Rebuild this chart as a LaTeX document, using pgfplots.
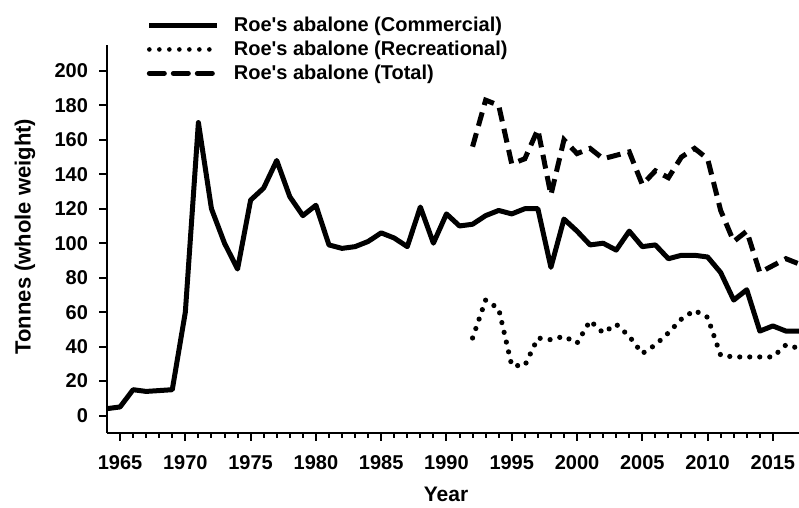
\documentclass[border=0pt]{standalone}
\usepackage{fontspec}
\setmainfont{Liberation Sans}
\usepackage{pgfplots}
\pgfplotsset{compat=1.18}

% commercial catch, tonnes
\pgfplotstableread{
yr t
1964 4
1965 5
1966 15
1967 14
1968 14.5
1969 15
1970 60
1971 170
1972 120
1973 100
1974 85
1975 125
1976 132
1977 148
1978 127
1979 116
1980 122
1981 99
1982 97
1983 98
1984 101
1985 106
1986 103
1987 98
1988 121
1989 100
1990 117
1991 110
1992 111
1993 116
1994 119
1995 117
1996 120
1997 120
1998 86
1999 114
2000 107
2001 99
2002 100
2003 96
2004 107
2005 98
2006 99
2007 91
2008 93
2009 93
2010 92
2011 83
2012 67
2013 73
2014 49
2015 52
2016 49
2017 49
}\commercial

\pgfplotstableread{
yr t
1992 45
1993 67
1994 62
1995 29
1996 29
1997 45
1998 44
1999 46
2000 42
2001 55
2002 48
2003 53
2004 46
2005 36
2006 41
2007 48
2008 56
2009 61
2010 57
2011 35
2012 34
2013 34
2014 34
2015 34
2016 41
2017 39
}\recreational

\pgfplotstableread{
yr t
1992 156
1993 183
1994 180
1995 146
1996 149
1997 166
1998 128
1999 160
2000 152
2001 155
2002 149
2003 151
2004 153
2005 134
2006 142
2007 138
2008 150
2009 155
2010 149
2011 119
2012 101
2013 107
2014 83
2015 87
2016 91
2017 88
}\total

\begin{document}
\begin{tikzpicture}
\begin{axis}[
  scale only axis,
  width=346pt, height=193.9pt,
  xmin=1964, xmax=2017,
  ymin=-10, ymax=215,
  axis lines=left,
  axis line style={-, line width=1pt},
  xtick={1965,1970,...,2015},
  minor x tick num=4,
  ytick={0,20,...,200},
  tick align=outside,
  major tick length=4pt,
  minor tick length=2.5pt,
  every tick/.style={black, line width=1pt},
  /pgf/number format/1000 sep={},
  /pgf/number format/assume math mode=true,
  ticklabel style={font=\bfseries\fontsize{10}{12}\selectfont},
  xticklabel style={yshift=-4pt},
  yticklabel style={xshift=-2pt},
  xlabel={Year},
  ylabel={Tonnes (whole weight)},
  xlabel style={font=\bfseries\fontsize{10.5}{12}\selectfont, at={(axis description cs:0.49,-0.16)}, anchor=center},
  ylabel style={font=\bfseries\fontsize{11}{13}\selectfont, at={(axis description cs:-0.1185,0.506)}, anchor=center},
  legend style={at={(axis description cs:0.057,1.084)}, anchor=north west,
    draw=none, fill=none, font=\bfseries\fontsize{10}{11}\selectfont, row sep=-0.8pt,
    inner sep=0pt},
  legend cell align=left,
  legend image code/.code={\draw[#1] (0pt,0pt) -- (34pt,0pt); \path (39pt,0pt);},
  clip=false,
]
\addplot[black, line width=2.5pt, line join=round] table[x=yr,y=t] {\commercial};
\addlegendentry{Roe\textquotesingle s abalone (Commercial)}
\addplot[black, line width=2.6pt, line cap=round, dash pattern=on 0pt off 5pt,
  legend image post style={line width=2.3pt, dash pattern=on 0pt off 5pt}] table[x=yr,y=t] {\recreational};
\addlegendentry{Roe\textquotesingle s abalone (Recreational)}
\addplot[black, line width=2.5pt, dash pattern=on 7pt off 3.8pt,
  legend image post style={line cap=round, dash pattern=on 7.5pt off 4.5pt}] table[x=yr,y=t] {\total};
\addlegendentry{Roe\textquotesingle s abalone (Total)}
\end{axis}
\pgfresetboundingbox
\path[use as bounding box] (-53.5pt,-37.15pt) rectangle (346pt,216.4pt);
\end{tikzpicture}
\end{document}
